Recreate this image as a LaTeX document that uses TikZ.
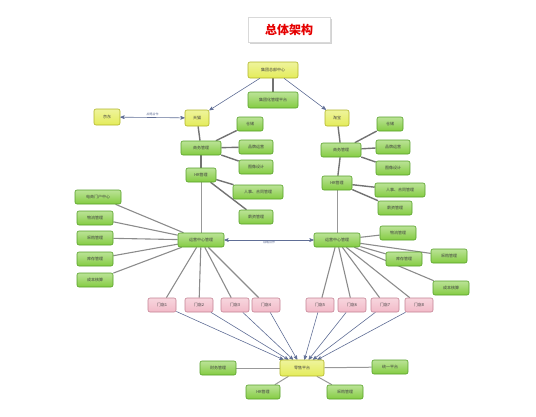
\documentclass[tikz,border=0pt]{standalone}
\usepackage{fontspec}
\setmainfont{Noto Sans CJK SC}
\usetikzlibrary{arrows,shadows,backgrounds}

\definecolor{ylw}{RGB}{228,236,90}
\definecolor{ylwd}{RGB}{176,180,40}
\definecolor{grn}{RGB}{132,204,66}
\definecolor{grnd}{RGB}{86,160,40}
\definecolor{pnk}{RGB}{242,186,200}
\definecolor{pnkd}{RGB}{196,130,148}
\definecolor{arr}{RGB}{96,110,150}

\tikzset{
  box/.style={rounded corners=2pt,draw,line width=0.6pt,minimum height=14pt,inner sep=1pt,
    font=\fontsize{4}{5}\selectfont,text=black!75},
  ybox/.style={box,draw=ylwd,top color=ylw!60!white,bottom color=ylw,minimum height=16pt},
  gbox/.style={box,draw=grnd,top color=grn!55!white,bottom color=grn},
  pbox/.style={box,draw=pnkd,top color=pnk!60!white,bottom color=pnk,minimum width=28pt},
  link/.style={line width=1.4pt,draw=black!55},
  midlink/.style={line width=1.1pt,draw=black!45},
  thinlink/.style={line width=0.7pt,draw=black!40},
  flow/.style={->,>=stealth',line width=0.6pt,draw=arr},
  tag/.style={font=\fontsize{3}{4}\selectfont,text=arr,inner sep=1pt}
}

\begin{document}
\begin{tikzpicture}[x=1pt,y=-1pt]
\useasboundingbox (0,0) rectangle (536,416);

% title
\node[fill=white,draw=black!15,drop shadow={shadow xshift=1.5pt,shadow yshift=-1.5pt,opacity=0.35},
  minimum width=82pt,minimum height=25pt,text=red!90!black,font=\fontsize{12}{14}\selectfont\bfseries]
  (title) at (289,30) {总体架构};

% top
\node[ybox,minimum width=50pt] (hq)   at (273,70)  {集团总部中心};
\node[gbox,minimum width=50pt,minimum height=16pt] (plat) at (273,100) {集团化管理平台};
\node[ybox,minimum width=24pt] (tm)   at (197,118) {天猫};
\node[ybox,minimum width=26pt] (jd)   at (107,117) {京东};
\node[ybox,minimum width=24pt] (tb)   at (337,118) {淘宝};

% left branch
\node[gbox,minimum width=40pt] (bm1)  at (201,148) {商务管理};
\node[gbox,minimum width=26pt] (st1)  at (250,124) {仓储};
\node[gbox,minimum width=34pt] (br1)  at (256,147) {品牌运营};
\node[gbox,minimum width=34pt] (im1)  at (256,167) {图像设计};
\node[gbox,minimum width=30pt] (hr1)  at (201,175) {HR管理};
\node[gbox,minimum width=50pt] (ct1)  at (258,192) {人事、合同管理};
\node[gbox,minimum width=34pt] (pay1) at (256,217) {薪资管理};
\node[gbox,minimum width=46pt] (op1)  at (201,240) {运营中心管理};
\node[gbox,minimum width=46pt] (ec1)  at (98,197)  {电商门户中心};
\node[gbox,minimum width=36pt] (lg1)  at (95,218)  {物流管理};
\node[gbox,minimum width=36pt] (pc1)  at (95,238)  {采购管理};
\node[gbox,minimum width=36pt] (kc1)  at (95,259)  {库存管理};
\node[gbox,minimum width=36pt] (cb1)  at (95,280)  {成本核算};

% right branch
\node[gbox,minimum width=26pt] (st2)  at (390,124) {仓储};
\node[gbox,minimum width=40pt] (bm2)  at (341,150) {商务管理};
\node[gbox,minimum width=34pt] (br2)  at (393,147) {品牌运营};
\node[gbox,minimum width=34pt] (im2)  at (393,168) {图像设计};
\node[gbox,minimum width=30pt] (hr2)  at (337,183) {HR管理};
\node[gbox,minimum width=50pt] (ct2)  at (400,190) {人事、合同管理};
\node[gbox,minimum width=34pt] (pay2) at (395,208) {薪资管理};
\node[gbox,minimum width=46pt] (op2)  at (337,240) {运营中心管理};
\node[gbox,minimum width=36pt] (lg2)  at (398,233) {物流管理};
\node[gbox,minimum width=36pt] (kc2)  at (404,259) {库存管理};
\node[gbox,minimum width=36pt] (pc2)  at (449,256) {采购管理};
\node[gbox,minimum width=36pt] (cb2)  at (451,288) {成本核算};

% stores
\foreach \i/\x in {1/162,2/199,3/235,4/266,5/320,6/352,7/385,8/419}
  \node[pbox] (s\i) at (\x,305) {门店\i};

% bottom
\node[ybox,minimum width=44pt] (rt)  at (302,368) {零售平台};
\node[gbox,minimum width=36pt] (fm)  at (218,368) {财务管理};
\node[gbox,minimum width=34pt] (hrb) at (263,392) {HR管理};
\node[gbox,minimum width=36pt] (pcb) at (345,392) {采购管理};
\node[gbox,minimum width=36pt] (un)  at (390,367) {统一平台};

\begin{pgfonlayer}{background}
\path[link] (hq) edge (plat)
  (tm) edge (bm1)  (bm1) edge (hr1)
  (bm1) edge (st1) edge (br1) edge (im1)
  (hr1) edge (ct1) edge (pay1)
  (tb) edge (bm2)  (bm2) edge (hr2)
  (bm2) edge (st2) edge (br2) edge (im2)
  (hr2) edge (ct2) edge (pay2);
\path[thinlink] (hr1) edge (op1) (hr2) edge (op2);
\path[midlink]
  (op1) edge (ec1) edge (lg1) edge (pc1) edge (kc1) edge (cb1)
  (op2) edge (lg2) edge (kc2) edge (pc2) edge (cb2);
\foreach \i in {1,...,4} \draw[midlink] (op1) -- (s\i);
\foreach \i in {5,...,8} \draw[midlink] (op2) -- (s\i);
\foreach \i in {1,...,8} \draw[flow] (s\i) -- (rt);
\path[thinlink,line width=1pt] (rt) edge (fm) edge (hrb) edge (pcb) edge (un);
\end{pgfonlayer}

\draw[flow] (hq) -- (tm);
\draw[flow] (hq) -- (tb);
\draw[flow,<->] (jd) -- node[tag,above] {战略合作} (tm);
\draw[flow,<->] (op1) -- node[tag,below] {战略合作} (op2);
\end{tikzpicture}
\end{document}
